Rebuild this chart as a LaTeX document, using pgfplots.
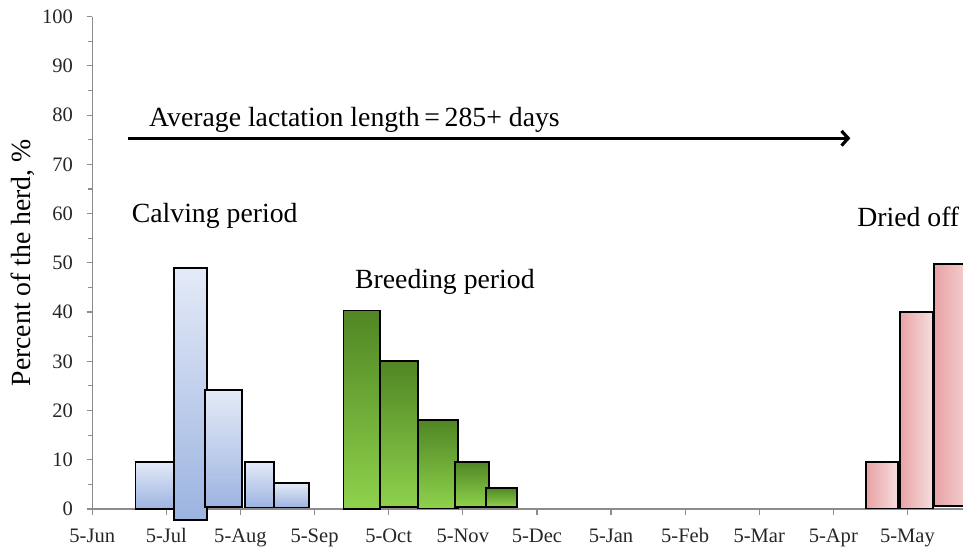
\documentclass[border=0pt]{standalone}
\usepackage{fontspec}
\setmainfont{Liberation Serif}
\usepackage{pgfplots}
\pgfplotsset{compat=1.18}
\usetikzlibrary{arrows.meta}
\definecolor{axisgray}{RGB}{140,140,140}
\definecolor{bluetop}{RGB}{228,234,247}
\definecolor{bluebot}{RGB}{156,180,225}
\definecolor{greentop}{RGB}{80,134,36}
\definecolor{greenbot}{RGB}{142,210,76}
\definecolor{pinklight}{RGB}{246,222,223}
\definecolor{pinkdark}{RGB}{232,162,164}
\newcommand{\annfont}{\fontsize{20.8}{24}\selectfont}
\pgfplotsset{
  calving/.style={draw=black, line width=1.4pt, top color=bluetop, bottom color=bluebot},
  breeding/.style={draw=black, line width=1.4pt, top color=greentop, bottom color=greenbot},
  dried/.style={draw=black, line width=1.4pt, left color=pinkdark, right color=pinklight},
}
\begin{document}
\begin{tikzpicture}
\begin{axis}[
  name=ax,
  scale only axis,
  width=653pt,
  height=369.2pt,
  xmin=0, xmax=11.75,
  ymin=0, ymax=100,
  clip=false,
  axis x line*=bottom,
  axis y line*=left,
  axis line style={draw=axisgray, line width=1.1pt},
  tick style={draw=axisgray, line width=0.9pt},
  tick align=outside,
  major tick length=4.3pt,
  minor tick length=3.2pt,
  ytick={0,10,...,100},
  minor y tick num=1,
  xtick={0,1,...,11},
  xticklabels={5-Jun,5-Jul,5-Aug,5-Sep,5-Oct,5-Nov,5-Dec,5-Jan,5-Feb,5-Mar,5-Apr,5-May},
  /pgf/number format/assume math mode=true,
  tick label style={font=\fontsize{15.4}{18}\selectfont, text=black!85},
  yticklabel style={anchor=east, inner sep=0pt, xshift=-10pt},
  xticklabel style={anchor=base, inner sep=0pt, yshift=-21pt},
]
% calving period
\addplot[calving] coordinates {(0.584,0) (0.584,9.6) (1.101,9.6) (1.101,0)} -- cycle;
\addplot[calving] coordinates {(1.101,-2.2) (1.101,48.9) (1.546,48.9) (1.546,-2.2)} -- cycle;
\addplot[calving] coordinates {(1.520,0.4) (1.520,24.1) (2.025,24.1) (2.025,0.4)} -- cycle;
\addplot[calving] coordinates {(2.065,0.3) (2.065,9.6) (2.451,9.6) (2.451,0.3)} -- cycle;
\addplot[calving] coordinates {(2.451,0.3) (2.451,5.2) (2.929,5.2) (2.929,0.3)} -- cycle;
% breeding period
\addplot[breeding] coordinates {(3.391,0) (3.391,40.3) (3.887,40.3) (3.887,0)} -- cycle;
\addplot[breeding] coordinates {(3.887,0.4) (3.887,30.0) (4.399,30.0) (4.399,0.4)} -- cycle;
\addplot[breeding] coordinates {(4.399,0.1) (4.399,18.1) (4.941,18.1) (4.941,0.1)} -- cycle;
\addplot[breeding] coordinates {(4.894,0.4) (4.894,9.6) (5.358,9.6) (5.358,0.4)} -- cycle;
\addplot[breeding] coordinates {(5.318,0.4) (5.318,4.3) (5.737,4.3) (5.737,0.4)} -- cycle;
% dried off
\addplot[dried] coordinates {(10.436,0.1) (10.436,9.6) (10.877,9.6) (10.877,0.1)} -- cycle;
\addplot[dried] coordinates {(10.895,0.1) (10.895,40.0) (11.344,40.0) (11.344,0.1)} -- cycle;
\addplot[dried] coordinates {(11.358,0.6) (11.358,49.8) (11.95,49.8) (11.95,0.6)} -- cycle;
% lactation arrow
\addplot[black, line width=2.4pt, -{Straight Barb[length=5pt,width=11pt]}] coordinates {(0.48,75.3) (10.23,75.3)};
\node[anchor=base west, inner sep=0pt, font=\annfont] at (axis cs:0.765,77.6) {Average lactation length\,=\,285+ days};
\node[anchor=base west, inner sep=0pt, font=\annfont] at (axis cs:0.531,58.2) {Calving period};
\node[anchor=base west, inner sep=0pt, font=\annfont] at (axis cs:3.544,44.7) {Breeding period};
\node[anchor=base west, inner sep=0pt, font=\annfont] at (axis cs:10.32,57.4) {Dried off};
\node[xshift=-46pt, rotate=90, anchor=base, inner sep=0pt, font=\annfont] at (rel axis cs:0,0.5) {Percent of the herd, \%};
\end{axis}
\pgfresetboundingbox
\path[use as bounding box] ([shift={(-69.2pt,-32.25pt)}]ax.south west) rectangle ([yshift=12.5pt]ax.north east);
\end{tikzpicture}
\end{document}
